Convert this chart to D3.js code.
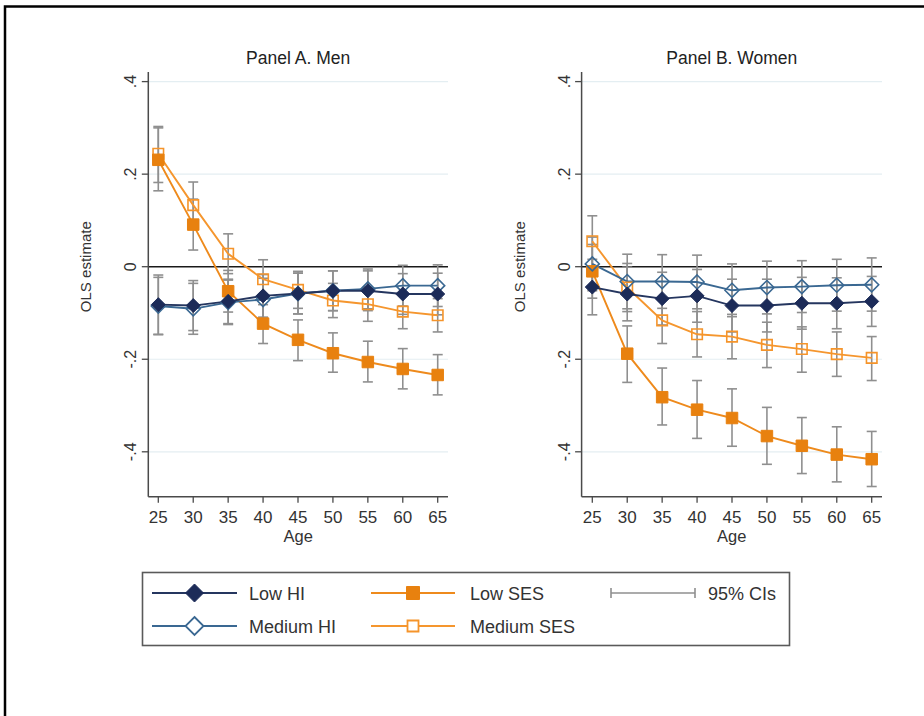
<!DOCTYPE html>
<html>
<head>
<meta charset="utf-8">
<script src="https://cdn.jsdelivr.net/npm/d3@7"></script>
<style>
  html, body { margin: 0; padding: 0; background: #fff; }
  svg { display: block; font-family: "Liberation Sans", Arial, sans-serif; }
</style>
</head>
<body>
<svg id="chart" width="924" height="716"></svg>
<script>
// Age groups on the x axis
const ages = [25, 30, 35, 40, 45, 50, 55, 60, 65];
const ageTicks = [25, 30, 35, 40, 45, 50, 55, 60, 65];
const yTicks = [0.4, 0.2, 0, -0.2, -0.4];
const yTickLabels = [".4", ".2", "0", "-.2", "-.4"];

// Panel A. Men: estimates and 95% confidence bounds
const menLowHI      = [-0.082, -0.084, -0.075, -0.063, -0.058, -0.052, -0.052, -0.059, -0.059];
const menLowHILo    = [-0.146, -0.138, -0.123, -0.109, -0.102, -0.095, -0.095, -0.103, -0.104];
const menLowHIHi    = [-0.018, -0.030, -0.027, -0.017, -0.014, -0.009, -0.009, -0.015, -0.014];
const menMedHI      = [-0.085, -0.091, -0.077, -0.071, -0.058, -0.052, -0.048, -0.041, -0.041];
const menMedHILo    = [-0.147, -0.146, -0.125, -0.117, -0.102, -0.095, -0.091, -0.085, -0.086];
const menMedHIHi    = [-0.023, -0.036, -0.029, -0.025, -0.014, -0.009, -0.005, 0.003, 0.004];
const menLowSES     = [0.231, 0.091, -0.053, -0.123, -0.158, -0.187, -0.206, -0.221, -0.234];
const menLowSESLo   = [0.164, 0.036, -0.098, -0.166, -0.203, -0.228, -0.249, -0.264, -0.277];
const menLowSESHi   = [0.300, 0.146, -0.008, -0.082, -0.115, -0.143, -0.161, -0.177, -0.190];
const menMedSES     = [0.244, 0.133, 0.028, -0.027, -0.050, -0.073, -0.081, -0.097, -0.105];
const menMedSESLo   = [0.182, 0.083, -0.015, -0.068, -0.090, -0.110, -0.118, -0.134, -0.141];
const menMedSESHi   = [0.303, 0.183, 0.071, 0.015, -0.010, -0.036, -0.044, -0.060, -0.069];

// Panel B. Women: estimates and 95% confidence bounds
const womenLowHI    = [-0.044, -0.059, -0.069, -0.063, -0.084, -0.084, -0.079, -0.079, -0.075];
const womenLowHILo  = [-0.104, -0.117, -0.126, -0.120, -0.141, -0.141, -0.135, -0.134, -0.129];
const womenLowHIHi  = [0.016, -0.001, -0.012, -0.006, -0.027, -0.027, -0.023, -0.024, -0.021];
const womenMedHI    = [0.006, -0.032, -0.032, -0.033, -0.051, -0.045, -0.043, -0.040, -0.039];
const womenMedHILo  = [-0.052, -0.091, -0.090, -0.091, -0.108, -0.102, -0.099, -0.096, -0.096];
const womenMedHIHi  = [0.064, 0.027, 0.026, 0.025, 0.006, 0.012, 0.013, 0.016, 0.019];
const womenLowSES   = [-0.010, -0.188, -0.282, -0.309, -0.327, -0.366, -0.387, -0.406, -0.416];
const womenLowSESLo = [-0.068, -0.250, -0.342, -0.371, -0.388, -0.427, -0.447, -0.465, -0.475];
const womenLowSESHi = [0.048, -0.128, -0.219, -0.246, -0.264, -0.304, -0.326, -0.346, -0.356];
const womenMedSES   = [0.055, -0.045, -0.116, -0.146, -0.151, -0.169, -0.178, -0.189, -0.197];
const womenMedSESLo = [0.000, -0.097, -0.166, -0.195, -0.199, -0.218, -0.228, -0.237, -0.246];
const womenMedSESHi = [0.110, 0.007, -0.066, -0.097, -0.103, -0.120, -0.130, -0.141, -0.151];

const seriesNames = ["Low HI", "Medium HI", "Low SES", "Medium SES"];
const panelTitles = ["Panel A. Men", "Panel B. Women"];

// Visual style per series
const styles = {
  "Low HI":     { color: "#1c2b58", line: "#25365f", shape: "diamond", filled: true },
  "Medium HI":  { color: "#3a6892", line: "#3a6892", shape: "diamond", filled: false },
  "Low SES":    { color: "#e8810f", line: "#ee8a1c", shape: "square",  filled: true },
  "Medium SES": { color: "#f5942a", line: "#f5962e", shape: "square",  filled: false }
};
const ciColor = "#8f8f8f";

const panels = [
  { title: panelTitles[0], axisX: 148.3, x25: 158.3, x65: 437.7, right: 448,
    series: [
      { name: "Low HI", est: menLowHI, lo: menLowHILo, hi: menLowHIHi },
      { name: "Medium HI", est: menMedHI, lo: menMedHILo, hi: menMedHIHi },
      { name: "Low SES", est: menLowSES, lo: menLowSESLo, hi: menLowSESHi },
      { name: "Medium SES", est: menMedSES, lo: menMedSESLo, hi: menMedSESHi }
    ] },
  { title: panelTitles[1], axisX: 581.6, x25: 592.3, x65: 871.7, right: 882,
    series: [
      { name: "Low HI", est: womenLowHI, lo: womenLowHILo, hi: womenLowHIHi },
      { name: "Medium HI", est: womenMedHI, lo: womenMedHILo, hi: womenMedHIHi },
      { name: "Low SES", est: womenLowSES, lo: womenLowSESLo, hi: womenLowSESHi },
      { name: "Medium SES", est: womenMedSES, lo: womenMedSESLo, hi: womenMedSESHi }
    ] }
];

const svg = d3.select("#chart");

// Outer frame (top and left edges visible)
svg.append("path")
  .attr("d", "M5,730 V6.5 H940")
  .attr("fill", "none").attr("stroke", "#000").attr("stroke-width", 2.5);

const y = d3.scaleLinear().domain([-0.4, 0.4]).range([451.8, 81.6]);
const plotTop = 72, plotBottom = 496.8;

function markerPath(shape, size) {
  const h = size / 2;
  if (shape === "diamond") return `M0,${-h}L${h},0L0,${h}L${-h},0Z`;
  return `M${-h},${-h}H${h}V${h}H${-h}Z`;
}

function drawMarker(g, name, cx, cy) {
  const st = styles[name];
  const size = st.shape === "diamond" ? 14 : (st.filled ? 11.5 : 10.5);
  g.append("path")
    .attr("d", markerPath(st.shape, size))
    .attr("transform", `translate(${cx},${cy})`)
    .attr("fill", st.filled ? st.color : "none")
    .attr("stroke", st.color)
    .attr("stroke-width", st.filled ? 1 : 1.6)
    .attr("stroke-linejoin", "miter");
}

panels.forEach(p => {
  const x = d3.scaleLinear().domain([25, 65]).range([p.x25, p.x65]);
  const g = svg.append("g");

  // Horizontal grid lines
  g.selectAll("line.grid").data(yTicks.filter(v => v !== 0)).join("line")
    .attr("x1", p.axisX).attr("x2", p.right)
    .attr("y1", d => y(d)).attr("y2", d => y(d))
    .attr("stroke", "#e4eef2").attr("stroke-width", 1.2);

  // Zero reference line
  g.append("line")
    .attr("x1", p.axisX).attr("x2", p.right)
    .attr("y1", y(0)).attr("y2", y(0))
    .attr("stroke", "#1a1a1a").attr("stroke-width", 1.6);

  // Y axis
  g.append("line")
    .attr("x1", p.axisX).attr("x2", p.axisX)
    .attr("y1", plotTop).attr("y2", plotBottom)
    .attr("stroke", "#4a4a4a").attr("stroke-width", 1.5);
  g.selectAll("line.yt").data(yTicks).join("line")
    .attr("x1", p.axisX - 6.5).attr("x2", p.axisX)
    .attr("y1", d => y(d)).attr("y2", d => y(d))
    .attr("stroke", "#4a4a4a").attr("stroke-width", 1.3);
  g.selectAll("text.yt").data(yTicks).join("text")
    .attr("transform", d => `translate(${p.axisX - 12},${y(d)}) rotate(-90)`)
    .attr("text-anchor", "middle")
    .attr("font-size", 16).attr("fill", "#333")
    .text((d, i) => yTickLabels[i]);
  g.append("text")
    .attr("transform", `translate(${p.axisX - 57},${y(0)}) rotate(-90)`)
    .attr("text-anchor", "middle")
    .attr("font-size", 15).attr("fill", "#333")
    .text("OLS estimate");

  // X axis
  g.append("line")
    .attr("x1", p.axisX).attr("x2", p.right)
    .attr("y1", plotBottom).attr("y2", plotBottom)
    .attr("stroke", "#4a4a4a").attr("stroke-width", 1.5);
  g.selectAll("line.xt").data(ageTicks).join("line")
    .attr("x1", d => x(d)).attr("x2", d => x(d))
    .attr("y1", plotBottom).attr("y2", plotBottom + 6)
    .attr("stroke", "#4a4a4a").attr("stroke-width", 1.3);
  g.selectAll("text.xt").data(ageTicks).join("text")
    .attr("x", d => x(d)).attr("y", 523)
    .attr("text-anchor", "middle")
    .attr("font-size", 17).attr("fill", "#333")
    .text(d => d);
  g.append("text")
    .attr("x", (p.axisX + p.right) / 2).attr("y", 542)
    .attr("text-anchor", "middle")
    .attr("font-size", 16.5).attr("fill", "#333")
    .text("Age");

  // Panel title
  g.append("text")
    .attr("x", (p.axisX + p.right) / 2).attr("y", 64)
    .attr("text-anchor", "middle")
    .attr("font-size", 17.5).attr("fill", "#222")
    .text(p.title);

  // 95% confidence intervals
  p.series.forEach(s => {
    const cg = g.append("g");
    ages.forEach((a, i) => {
      const cx = x(a);
      cg.append("line").attr("x1", cx).attr("x2", cx)
        .attr("y1", y(s.lo[i])).attr("y2", y(s.hi[i]))
        .attr("stroke", ciColor).attr("stroke-width", 1.6);
      [s.lo[i], s.hi[i]].forEach(v => {
        cg.append("line").attr("x1", cx - 5).attr("x2", cx + 5)
          .attr("y1", y(v)).attr("y2", y(v))
          .attr("stroke", ciColor).attr("stroke-width", 1.6);
      });
    });
  });

  // Connected lines and markers
  const line = d3.line().x((d, i) => x(ages[i])).y(d => y(d));
  const order = ["Medium SES", "Low SES", "Medium HI", "Low HI"];
  order.forEach(name => {
    const s = p.series.find(t => t.name === name);
    g.append("path").datum(s.est)
      .attr("d", line)
      .attr("fill", "none")
      .attr("stroke", styles[name].line)
      .attr("stroke-width", 1.9);
  });
  order.forEach(name => {
    const s = p.series.find(t => t.name === name);
    s.est.forEach((v, i) => drawMarker(g, name, x(ages[i]), y(v)));
  });
});

// Legend
const lg = svg.append("g");
lg.append("rect")
  .attr("x", 142.5).attr("y", 572.5).attr("width", 647).attr("height", 73)
  .attr("fill", "#fff").attr("stroke", "#5a5a5a").attr("stroke-width", 1.6);

const legendItems = [
  { name: seriesNames[0], x1: 152, x2: 237, tx: 249, ty: 593 },
  { name: seriesNames[1], x1: 152, x2: 237, tx: 249, ty: 626 },
  { name: seriesNames[2], x1: 371, x2: 455, tx: 470, ty: 593 },
  { name: seriesNames[3], x1: 371, x2: 455, tx: 470, ty: 626 }
];
legendItems.forEach(it => {
  const st = styles[it.name];
  lg.append("line").attr("x1", it.x1).attr("x2", it.x2)
    .attr("y1", it.ty).attr("y2", it.ty)
    .attr("stroke", st.line).attr("stroke-width", 1.9);
  const cx = (it.x1 + it.x2) / 2;
  const size = st.shape === "diamond" ? 18 : (st.filled ? 13 : 11);
  lg.append("path")
    .attr("d", markerPath(st.shape, size))
    .attr("transform", `translate(${cx},${it.ty})`)
    .attr("fill", st.filled ? st.color : "#fff")
    .attr("stroke", st.color)
    .attr("stroke-width", st.filled ? 1 : 1.8);
  lg.append("text").attr("x", it.tx).attr("y", it.ty + 6.5)
    .attr("font-size", 18).attr("fill", "#333").text(it.name);
});
// CI legend key
lg.append("line").attr("x1", 611).attr("x2", 695).attr("y1", 593).attr("y2", 593)
  .attr("stroke", ciColor).attr("stroke-width", 1.6);
[611, 695].forEach(cx => lg.append("line").attr("x1", cx).attr("x2", cx)
  .attr("y1", 588).attr("y2", 598).attr("stroke", ciColor).attr("stroke-width", 1.6));
lg.append("text").attr("x", 708).attr("y", 599.5)
  .attr("font-size", 18).attr("fill", "#333").text("95% CIs");
</script>
</body>
</html>
